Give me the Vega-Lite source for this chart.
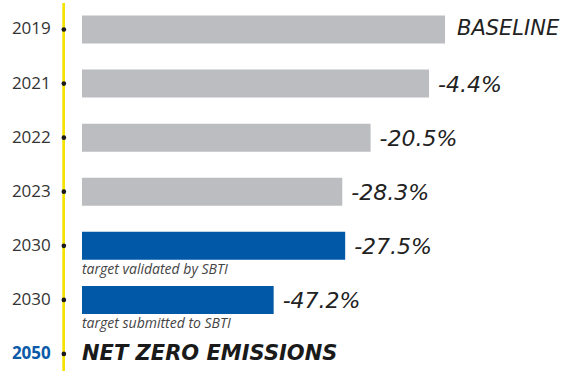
{
  "$schema": "https://vega.github.io/schema/vega-lite/v6.json",
  "width": 574,
  "height": 371,
  "autosize": {"type": "none"},
  "padding": 0,
  "background": "white",
  "config": {"view": {"stroke": null}},
  "data": {
    "values": [
      {"row": 0, "year": "2019", "value": 100, "label": "BASELINE", "type": "actual", "note": ""},
      {"row": 1, "year": "2021", "value": 95.6, "label": "-4.4%", "type": "actual", "note": ""},
      {"row": 2, "year": "2022", "value": 79.5, "label": "-20.5%", "type": "actual", "note": ""},
      {"row": 3, "year": "2023", "value": 71.7, "label": "-28.3%", "type": "actual", "note": ""},
      {"row": 4, "year": "2030", "value": 72.5, "label": "-27.5%", "type": "target", "note": "target validated by SBTI"},
      {"row": 5, "year": "2030", "value": 52.8, "label": "-47.2%", "type": "target", "note": "target submitted to SBTI"},
      {"row": 6, "year": "2050", "value": null, "label": "NET ZERO EMISSIONS", "type": "goal", "note": ""}
    ]
  },
  "encoding": {
    "y": {"field": "row", "type": "quantitative", "scale": {"domain": [-0.545, 6.315], "reverse": true, "nice": false, "zero": false, "padding": 0}, "axis": null}
  },
  "layer": [
    {
      "mark": {"type": "rule", "color": "#f4e200", "strokeWidth": 2},
      "encoding": {
        "x": {"datum": -5, "type": "quantitative", "scale": {"domain": [-22.59, 135.54], "nice": false, "zero": false, "padding": 0}, "axis": null},
        "y": {"datum": -0.49},
        "y2": {"datum": 6.315}
      }
    },
    {
      "transform": [{"filter": "datum.value != null"}],
      "mark": {"type": "bar", "orient": "horizontal", "height": 28},
      "encoding": {
        "x": {"field": "value", "type": "quantitative"},
        "x2": {"datum": 0},
        "color": {"field": "type", "type": "nominal", "scale": {"domain": ["actual", "target"], "range": ["#bcbdc0", "#0058a6"]}, "legend": null}
      }
    },
    {
      "mark": {"type": "circle", "color": "#1a1a1a", "opacity": 1, "size": 22},
      "encoding": {"x": {"datum": -5}}
    },
    {
      "transform": [{"filter": "datum.year != '2050'"}],
      "mark": {"type": "text", "align": "right", "baseline": "middle", "font": "Open Sans", "fontSize": 17, "color": "#333333"},
      "encoding": {
        "x": {"datum": -8.6},
        "text": {"field": "year"}
      }
    },
    {
      "transform": [{"filter": "datum.year == '2050'"}],
      "mark": {"type": "text", "align": "right", "baseline": "middle", "font": "Open Sans", "fontSize": 17, "fontWeight": "bold", "color": "#0a5aa8"},
      "encoding": {
        "x": {"datum": -8.6},
        "text": {"field": "year"}
      }
    },
    {
      "transform": [{"filter": "datum.value != null && datum.row > 0"}],
      "mark": {"type": "text", "align": "left", "baseline": "middle", "dx": 9, "dy": 1, "font": "DejaVu Sans", "fontStyle": "italic", "fontSize": 22, "color": "#222222"},
      "encoding": {
        "x": {"field": "value", "type": "quantitative"},
        "text": {"field": "label"}
      }
    },
    {
      "transform": [{"filter": "datum.row == 0"}],
      "mark": {"type": "text", "align": "left", "baseline": "middle", "dx": 12, "font": "DejaVu Sans", "fontStyle": "italic", "fontSize": 21, "color": "#222222"},
      "encoding": {
        "x": {"field": "value", "type": "quantitative"},
        "text": {"field": "label"}
      }
    },
    {
      "transform": [{"filter": "datum.note != ''"}],
      "mark": {"type": "text", "align": "left", "baseline": "middle", "dy": 24, "font": "Open Sans", "fontStyle": "italic", "fontSize": 14, "color": "#444444"},
      "encoding": {
        "x": {"datum": 0},
        "text": {"field": "note"}
      }
    },
    {
      "transform": [{"filter": "datum.value == null"}],
      "mark": {"type": "text", "align": "left", "baseline": "middle", "font": "DejaVu Sans", "fontStyle": "italic", "fontWeight": "bold", "fontSize": 21, "color": "#1a1a1a"},
      "encoding": {
        "x": {"datum": 0},
        "text": {"field": "label"}
      }
    }
  ]
}
